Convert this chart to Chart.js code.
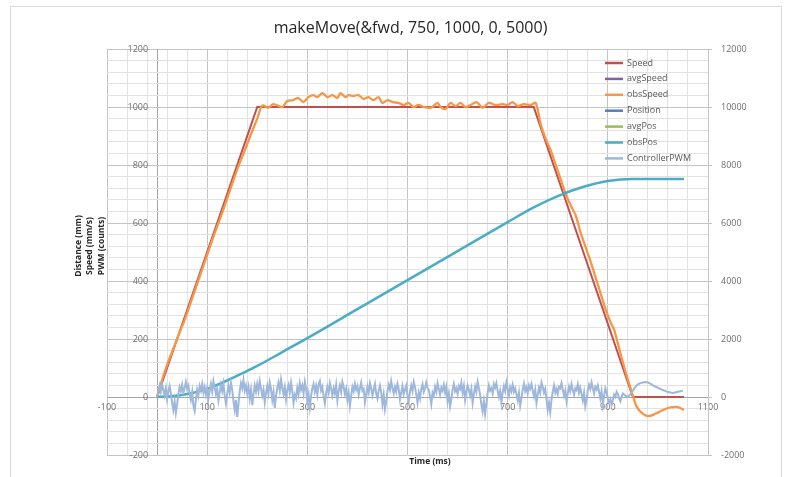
<!DOCTYPE html>
<html>
<head>
<meta charset="utf-8">
<title>makeMove chart</title>
<script src="https://cdn.jsdelivr.net/npm/chart.js@4.4.1/dist/chart.umd.min.js"></script>
<style>
    html, body {
        margin: 0;
        padding: 0;
        background: #ffffff;
    }
    #wrap {
        width: 787px;
        height: 477px;
    }
</style>
</head>
<body>
<div id="wrap"><canvas id="moveChart" width="787" height="477"></canvas></div>
<script>
// Chart data
const chartTitle = 'makeMove(&fwd, 750, 1000, 0, 5000)';
const seriesNames = ['Speed', 'avgSpeed', 'obsSpeed', 'Position', 'avgPos', 'obsPos', 'ControllerPWM'];

// commanded speed (mm/s)
const speedTime = [0, 200, 752, 950, 1052];
const speedValues = [0, 1000, 1000, 0, 0];

// observed speed (mm/s)
const obsSpeedTime = [0, 5, 12, 22, 32, 42, 55, 70, 85, 100, 115, 130, 145, 160, 175, 186, 200, 210,
    222, 232, 250, 260, 272, 282, 292, 302, 312, 320, 330, 340, 350, 360, 366, 376, 382, 392, 402, 412,
    422, 432, 442, 450, 460, 470, 482, 492, 502, 512, 522, 532, 546, 560, 566, 576, 586, 596, 606, 616,
    626, 638, 650, 662, 676, 690, 700, 710, 720, 732, 746, 756, 766, 776, 786, 796, 806, 816, 826, 836,
    846, 856, 866, 876, 886, 896, 906, 912, 920, 930, 940, 950, 958, 970, 982, 995, 1010, 1025, 1040, 1052];
const obsSpeedValues = [0, 30, 70, 120, 165, 210, 265, 340, 415, 490, 565, 635, 710, 785, 850, 900, 960, 1005,
    997, 1010, 1000, 1021, 1024, 1031, 1017, 1034, 1041, 1034, 1048, 1034, 1041, 1031, 1048, 1034, 1041, 1038, 1041, 1028,
    1034, 1024, 1034, 1014, 1024, 1017, 1014, 1007, 1014, 1000, 1007, 1000, 997, 1014, 1000, 993, 1014, 1003, 1014, 1000,
    1007, 1017, 997, 1014, 1007, 1010, 1007, 1017, 1003, 1010, 1007, 1014, 940, 890, 850, 800, 750, 700, 660, 625,
    565, 515, 465, 410, 355, 300, 255, 235, 185, 120, 60, 5, -35, -58, -66, -58, -45, -36, -35, -45];

// observed position (counts)
const obsPosTime = [0, 50, 100, 150, 200, 250, 300, 400, 500, 600, 700, 750, 800, 850, 900, 950, 1000, 1052];
const obsPosValues = [0, 70, 280, 650, 1070, 1550, 2030, 3030, 4030, 5030, 6030, 6520, 6930, 7240, 7450, 7520, 7520, 7520];

// series with no visible trace
const avgSpeedValues = [];
const positionValues = [];
const avgPosValues = [];

// controller PWM (counts): noisy part sampled every 2.5 ms from 0 ms, then a smooth tail
const pwmSampleMs = 2.5;
const pwmNoiseValues = [
    0, 22, 40, 18, 45, 25, 5, 30, -8, 20, 38, 12, -20, -45, -15, -55, -25, 10, 35, 20,
    42, 15, 30, 52, 28, 40, 10, -10, 18, -30, -48, -10, 25, 5, 38, 22, 45, 15, 35, 8,
    30, -5, 22, 45, 18, 55, 32, 10, 28, -12, 15, 42, 20, 46, 5, -22, 12, 38, 15, 50,
    25, -15, -45, -10, -69, -25, 20, 48, 30, 58, 22, 40, 12, 35, -5, 25, -28, 10, 40, 18,
    45, 20, 55, 30, 5, 25, -18, 15, 38, 12, 50, 28, -10, 18, -38, 5, 30, 50, 22, 60,
    30, 10, 35, -8, 25, 42, 15, 50, 20, -20, 8, -5, 32, 10, 48, 25, 40, 12, 52, 28,
    -15, 10, -35, 5, 30, 45, 18, 38, 8, 44, 55, 22, 35, 2, -22, 12, 35, 15, 48, 28,
    5, 30, 12, 42, -12, 20, 40, 18, 52, 35, 10, 28, -10, 15, -30, 5, 35, 20, 46, 25,
    38, 8, 30, 50, 22, 28, -18, 10, 36, 15, 48, 30, 5, 25, 45, 12, -5, 22, 40, 18,
    -25, 8, -42, -15, 20, 42, 25, 55, 30, 12, 35, 18, 46, 28, -8, 15, 38, 10, 26, 40,
    6, -14, 18, 40, 20, 52, 34, 10, -20, 15, -5, 28, 44, 18, 30, 50, 32, 25, 2, -25,
    15, 5, 35, 18, 48, 28, 8, 32, 22, 42, 15, 35, -15, 12, -32, -8, 25, 45, 20, 30,
    10, 38, 28, 50, 15, 38, -10, 18, 40, 25, 5, 28, -20, 10, 36, 18, 52, 30, 8, -25,
    -50, -15, -58, -25, 15, 40, 22, 30, 12, 45, 32, 48, 22, 0, 20, -18, 15, 38, 20, 50,
    28, 6, 35, 20, 42, 18, 30, 10, -12, 15, -30, -5, 25, 46, 20, 34, 12, 40, 28, 45,
    22, 2, 25, -20, 8, 32, 15, 50, 35, 15, 28, -8, -45, -20, -52, -10, 18, 40, 15, 28,
    10, 35, 30, 48, 26, 4, 22, -15, 12, 36, 20, 45, 25, 8, 30, 24, 44, 15, 32, 10,
    -12, 15, -32, -8, 22, 42, 28, 50, 30, 12, 35, 26, 40, 18, -6, 20, -25, 5, 30, 15,
    -5, -18, -8, -28, -10, 8, 0, 18, 10, -5, -15, 0, 12
];
const pwmTailTime = [935, 940, 945, 950, 955, 960, 965, 970, 975, 980, 985, 990, 1000, 1010, 1020, 1030, 1040, 1050];
const pwmTailValues = [5, 0, 10, 22, 35, 44, 48, 50, 52, 50, 46, 40, 32, 24, 17, 14, 18, 22];

// axis ranges and tick labels
const xMin = -100, xMax = 1100;
const yMin = -200, yMax = 1200;
const y1Min = -2000, y1Max = 12000;
const minorStep = 40;
const xTickLabels = [-100, 100, 300, 500, 700, 900, 1100];
const yTickLabels = [-200, 0, 200, 400, 600, 800, 1000, 1200];
const y1TickLabels = [-2000, 0, 2000, 4000, 6000, 8000, 10000, 12000];

// Colours
const seriesColors = ['#c0504d', '#8064a2', '#f79646', '#4f81bd', '#9bbb59', '#4bacc6', '#9db8dc'];
const textColor = '#595959';
const tickColor = '#6f6f6f';
const axisLine = '#a6a6a6';
const majorGrid = '#c4c4c4';
const minorGrid = '#e2e2e2';
const FONT = "'Open Sans', sans-serif";

document.addEventListener('DOMContentLoaded', function () {
    initChart();
});

// zip two arrays into {x, y} points
function toPoints(times, values) {
    return values.map((v, i) => ({ x: times[i], y: v }));
}

function pwmPoints() {
    const noise = pwmNoiseValues.map((v, i) => ({ x: i * pwmSampleMs, y: v }));
    return noise.concat(toPoints(pwmTailTime, pwmTailValues));
}

// minor grid ticks every 40 units between min and max
function gridTicks(min, max, extra) {
    const ticks = [];
    for (let v = min; v <= max + 0.001; v += minorStep) {
        ticks.push({ value: v });
    }
    (extra || []).forEach(v => ticks.push({ value: v }));
    return ticks;
}

// x grid colour: y axis line at 0, majors at labelled ticks
function xGridColor(c) {
    if (c.tick.value === 0) return axisLine;
    return xTickLabels.includes(c.tick.value) ? majorGrid : minorGrid;
}

// Title, axis titles, legend and outer frame
const decorations = {
    id: 'decorations',
    afterDraw(chart) {
        const ctx = chart.ctx;
        const area = chart.chartArea;
        ctx.save();

        // outer frame
        ctx.strokeStyle = '#d9d9d9';
        ctx.lineWidth = 1;
        ctx.strokeRect(10.5, 6.5, 771, 490);

        // title
        ctx.fillStyle = '#262626';
        ctx.font = "16px " + FONT;
        ctx.textAlign = 'center';
        ctx.textBaseline = 'middle';
        ctx.fillText(chartTitle, (area.left + area.right) / 2 + 3, 28);

        // x axis title
        ctx.font = "bold 8.5px " + FONT;
        ctx.fillText('Time (ms)', 430, 462);

        // y axis title (three lines, rotated)
        const yTitleLines = ['Distance (mm)', 'Speed (mm/s)', 'PWM (counts)'];
        ctx.save();
        ctx.translate(90, 246);
        ctx.rotate(-Math.PI / 2);
        yTitleLines.forEach((line, i) => {
            ctx.fillText(line, 0, (i - 1) * 11.5);
        });
        ctx.restore();

        // legend
        ctx.font = "9px " + FONT;
        ctx.textAlign = 'left';
        chart.data.datasets.forEach((ds, i) => {
            const y = 63 + i * 15.9;
            ctx.strokeStyle = ds.borderColor;
            ctx.lineWidth = 2.5;
            ctx.beginPath();
            ctx.moveTo(605, y);
            ctx.lineTo(623, y);
            ctx.stroke();
            ctx.fillStyle = textColor;
            ctx.fillText(ds.label, 627, y);
        });

        ctx.restore();
    }
};

function makeDataset(index, points, axis, extra) {
    return Object.assign({
        label: seriesNames[index],
        data: points,
        yAxisID: axis,
        borderColor: seriesColors[index],
        backgroundColor: seriesColors[index],
        borderWidth: 2,
        pointRadius: 0,
        tension: 0,
        fill: false,
        order: -index
    }, extra || {});
}

function initChart() {
    const canvas = document.getElementById('moveChart');

    const datasets = [
        makeDataset(0, toPoints(speedTime, speedValues), 'y'),
        makeDataset(1, avgSpeedValues, 'y'),
        makeDataset(2, toPoints(obsSpeedTime, obsSpeedValues), 'y', { tension: 0.3, borderWidth: 2.3 }),
        makeDataset(3, positionValues, 'y1'),
        makeDataset(4, avgPosValues, 'y1'),
        makeDataset(5, toPoints(obsPosTime, obsPosValues), 'y1', { cubicInterpolationMode: 'monotone', borderWidth: 2.5 }),
        makeDataset(6, pwmPoints(), 'y', { borderWidth: 2 })
    ];

    new Chart(canvas, {
        type: 'line',
        data: { datasets: datasets },
        options: {
            responsive: false,
            animation: false,
            events: [],
            layout: {
                padding: { left: 107, top: 49, right: 0, bottom: 22 }
            },
            plugins: {
                legend: { display: false },
                title: { display: false },
                tooltip: { enabled: false }
            },
            scales: {
                x: {
                    type: 'linear',
                    position: { y: 0 },
                    min: xMin,
                    max: xMax,
                    afterBuildTicks: scale => { scale.ticks = gridTicks(xMin, xMax, [0]); },
                    grid: {
                        drawTicks: false,
                        color: xGridColor
                    },
                    border: { display: true, color: axisLine },
                    ticks: {
                        autoSkip: false,
                        maxRotation: 0,
                        padding: 5,
                        color: tickColor,
                        font: { family: FONT, size: 9 },
                        callback: v => xTickLabels.includes(v) ? String(v) : ''
                    }
                },
                y: {
                    type: 'linear',
                    // labels sit just left of the x = 0 line
                    position: { x: -18 },
                    min: yMin,
                    max: yMax,
                    afterBuildTicks: scale => { scale.ticks = gridTicks(yMin, yMax); },
                    grid: {
                        drawTicks: false,
                        color: c => yTickLabels.includes(c.tick.value) ? majorGrid : minorGrid
                    },
                    border: { display: false },
                    ticks: {
                        autoSkip: false,
                        padding: 0,
                        color: tickColor,
                        font: { family: FONT, size: 9 },
                        callback: v => yTickLabels.includes(v) ? String(v) : ''
                    }
                },
                y1: {
                    type: 'linear',
                    position: 'right',
                    min: y1Min,
                    max: y1Max,
                    afterBuildTicks: scale => { scale.ticks = y1TickLabels.map(v => ({ value: v })); },
                    afterFit: scale => { scale.width = 79; },
                    grid: {
                        drawOnChartArea: false,
                        drawTicks: true,
                        tickLength: 4,
                        color: majorGrid
                    },
                    border: { display: true, color: majorGrid },
                    ticks: {
                        padding: 9,
                        color: tickColor,
                        font: { family: FONT, size: 9 },
                        callback: v => String(v)
                    }
                }
            }
        },
        plugins: [decorations]
    });
}
</script>
</body>
</html>
